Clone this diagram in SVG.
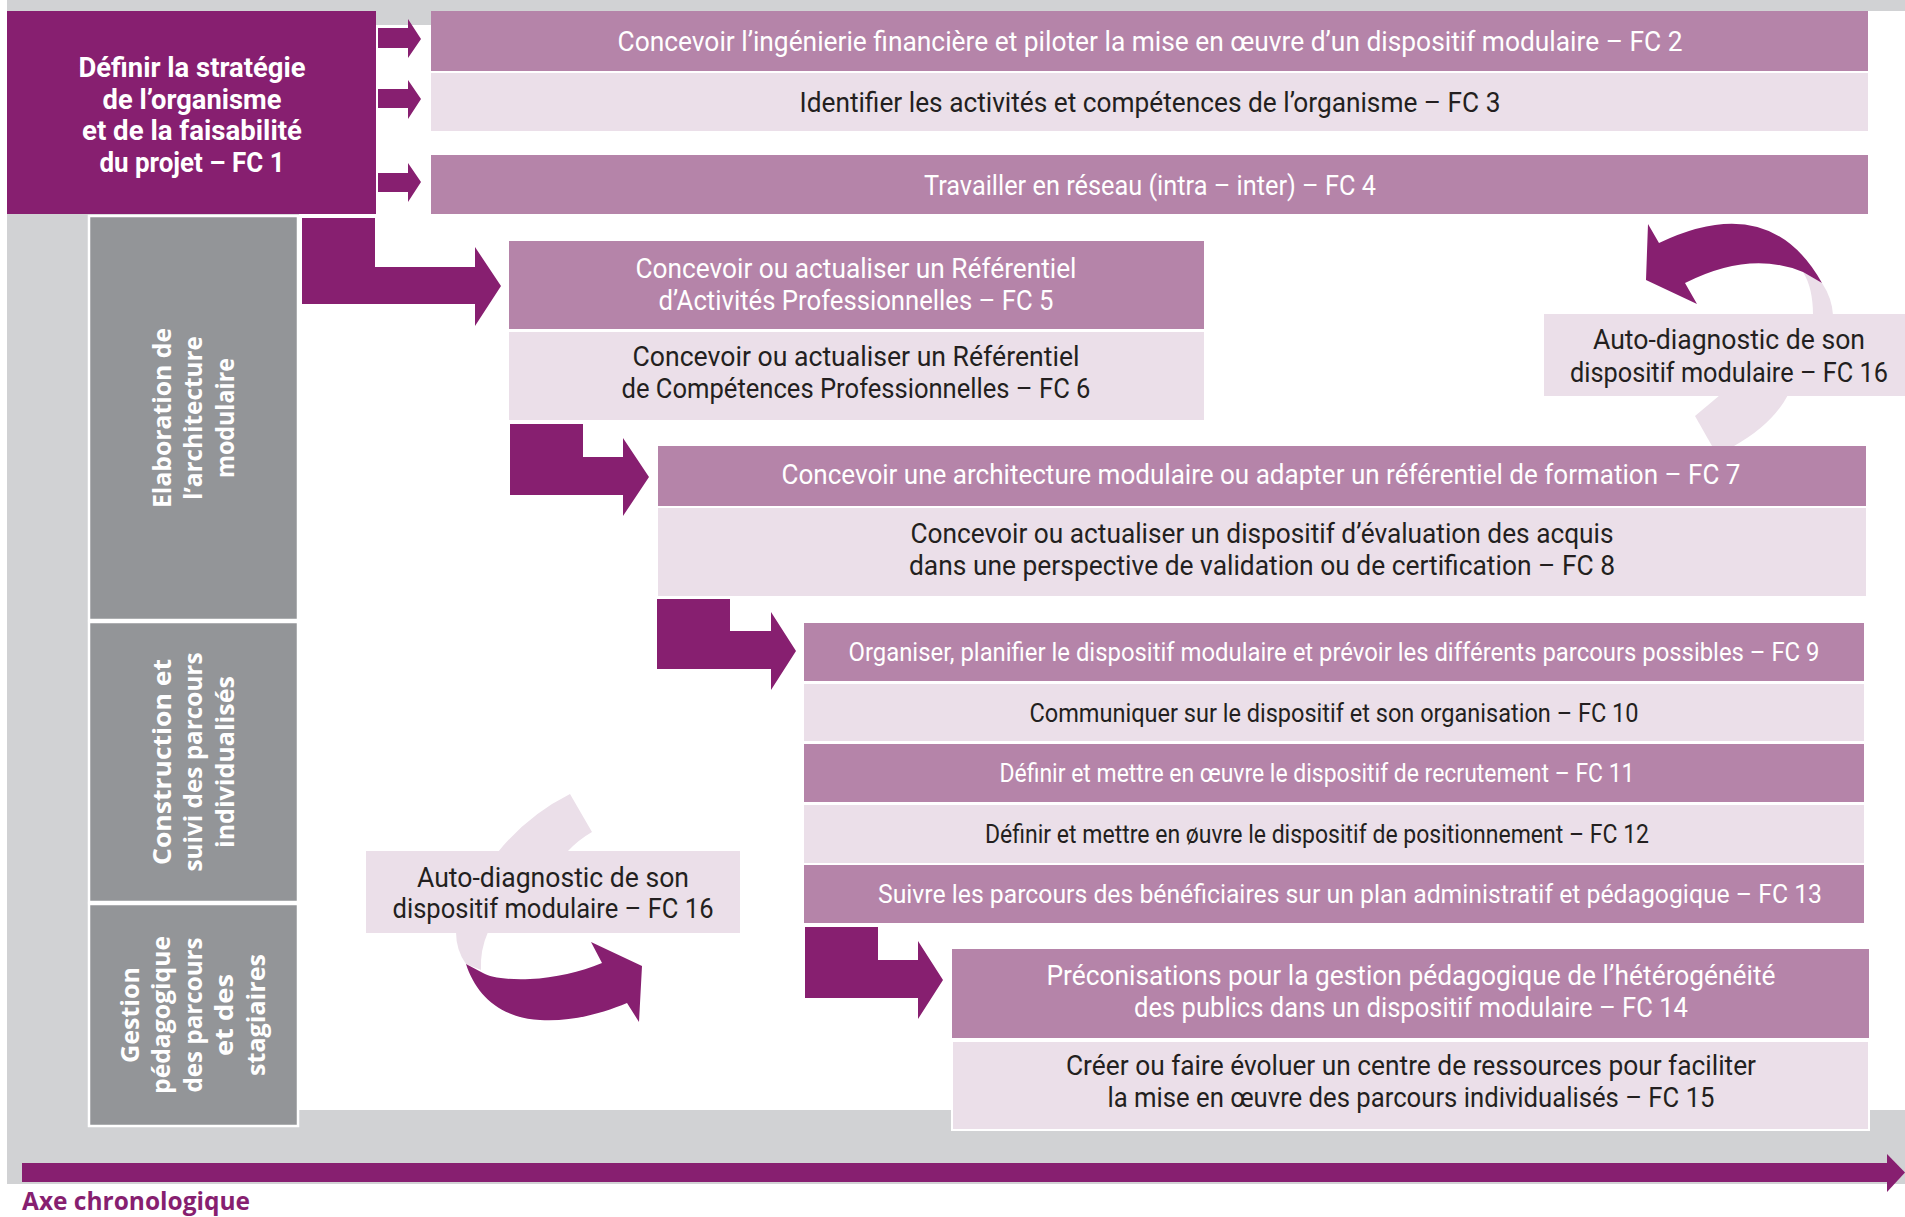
<svg xmlns="http://www.w3.org/2000/svg" width="1905" height="1217" viewBox="0 0 1905 1217">
<style>
.dk{fill:#871f70}
.md{fill:#b584a9}
.lt{fill:#ebdfe9}
.col{fill:#939598;stroke:#ffffff;stroke-width:2.5}
.pale{fill:#ebdfe9}
text{font-family:Roboto,"Liberation Sans",sans-serif;font-size:27px;text-anchor:middle}
.w{fill:#ffffff}
.d{fill:#231f20}
.sm{font-size:25px}
.b{font-weight:bold}
.side{font-family:"Open Sans","Liberation Sans",sans-serif;font-weight:bold;font-size:25px;fill:#ffffff}
</style>
<rect width="1905" height="1217" fill="#ffffff"/>
<g id="background">
<rect x="7" y="0" width="1898" height="1184" fill="#d1d2d4"/>
<rect x="299" y="11" width="1606" height="1099" fill="#ffffff"/>
<rect x="376" y="11" width="55" height="14" fill="#d1d2d4"/>
</g>

<g id="fc1">
<rect class="dk" x="7" y="11" width="369" height="203"/>
<text class="w b" x="192" y="77" textLength="227" lengthAdjust="spacingAndGlyphs">Définir la stratégie</text>
<text class="w b" x="192" y="109" textLength="179" lengthAdjust="spacingAndGlyphs">de l’organisme</text>
<text class="w b" x="192" y="140" textLength="220" lengthAdjust="spacingAndGlyphs">et de la faisabilité</text>
<text class="w b" x="192" y="172" textLength="185" lengthAdjust="spacingAndGlyphs">du projet – FC 1</text>
</g>

<g id="col-elaboration">
<rect class="col" x="89" y="216" width="209" height="404"/>
<g transform="translate(193.5,418) rotate(-90)">
<text class="side" x="0" y="-23" textLength="180" lengthAdjust="spacingAndGlyphs">Elaboration de</text>
<text class="side" x="0" y="8.5" textLength="164" lengthAdjust="spacingAndGlyphs">l’architecture</text>
<text class="side" x="0" y="40" textLength="120" lengthAdjust="spacingAndGlyphs">modulaire</text>
</g>
</g>
<g id="col-construction">
<rect class="col" x="89" y="622" width="209" height="280"/>
<g transform="translate(193.5,762) rotate(-90)">
<text class="side" x="0" y="-23" textLength="206" lengthAdjust="spacingAndGlyphs">Construction et</text>
<text class="side" x="0" y="8.5" textLength="219" lengthAdjust="spacingAndGlyphs">suivi des parcours</text>
<text class="side" x="0" y="40" textLength="172" lengthAdjust="spacingAndGlyphs">individualisés</text>
</g>
</g>
<g id="col-gestion">
<rect class="col" x="89" y="904" width="209" height="222"/>
<g transform="translate(193.5,1015) rotate(-90)">
<text class="side" x="0" y="-55" textLength="96" lengthAdjust="spacingAndGlyphs">Gestion</text>
<text class="side" x="0" y="-23.5" textLength="158" lengthAdjust="spacingAndGlyphs">pédagogique</text>
<text class="side" x="0" y="8" textLength="155" lengthAdjust="spacingAndGlyphs">des parcours</text>
<text class="side" x="0" y="39.5" textLength="82" lengthAdjust="spacingAndGlyphs">et des</text>
<text class="side" x="0" y="71" textLength="122" lengthAdjust="spacingAndGlyphs">stagiaires</text>
</g>
</g>

<g id="fc2">
<rect class="md" x="431" y="11" width="1437" height="60"/>
<text class="w" x="1150" y="51" textLength="1065" lengthAdjust="spacingAndGlyphs">Concevoir l’ingénierie financière et piloter la mise en œuvre d’un dispositif modulaire – FC 2</text>
</g>
<g id="fc3">
<rect class="lt" x="431" y="73" width="1437" height="58"/>
<text class="d" x="1150" y="112" textLength="701" lengthAdjust="spacingAndGlyphs">Identifier les activités et compétences de l’organisme – FC 3</text>
</g>
<g id="fc4">
<rect class="md" x="431" y="155" width="1437" height="59"/>
<text class="w" x="1150" y="195" textLength="452" lengthAdjust="spacingAndGlyphs">Travailler en réseau (intra – inter) – FC 4</text>
</g>
<g id="fc5">
<rect class="md" x="509" y="241" width="695" height="88"/>
<text class="w" x="856" y="278" textLength="441" lengthAdjust="spacingAndGlyphs">Concevoir ou actualiser un Référentiel</text>
<text class="w" x="856" y="310" textLength="395" lengthAdjust="spacingAndGlyphs">d’Activités Professionnelles – FC 5</text>
</g>
<g id="fc6">
<rect class="lt" x="509" y="332" width="695" height="88"/>
<text class="d" x="856" y="366" textLength="447" lengthAdjust="spacingAndGlyphs">Concevoir ou actualiser un Référentiel</text>
<text class="d" x="856" y="398" textLength="469" lengthAdjust="spacingAndGlyphs">de Compétences Professionnelles – FC 6</text>
</g>
<g id="fc7">
<rect class="md" x="658" y="446" width="1208" height="60"/>
<text class="w" x="1261" y="484" textLength="959" lengthAdjust="spacingAndGlyphs">Concevoir une architecture modulaire ou adapter un référentiel de formation – FC 7</text>
</g>
<g id="fc8">
<rect class="lt" x="658" y="508" width="1208" height="88"/>
<text class="d" x="1262" y="543" textLength="703" lengthAdjust="spacingAndGlyphs">Concevoir ou actualiser un dispositif d’évaluation des acquis</text>
<text class="d" x="1262" y="575" textLength="706" lengthAdjust="spacingAndGlyphs">dans une perspective de validation ou de certification – FC 8</text>
</g>
<g id="fc9">
<rect class="md" x="804" y="623" width="1060" height="58"/>
<text class="w sm" x="1334" y="661" textLength="971" lengthAdjust="spacingAndGlyphs">Organiser, planifier le dispositif modulaire et prévoir les différents parcours possibles – FC 9</text>
</g>
<g id="fc10">
<rect class="lt" x="804" y="684" width="1060" height="57"/>
<text class="d sm" x="1334" y="722" textLength="609" lengthAdjust="spacingAndGlyphs">Communiquer sur le dispositif et son organisation – FC 10</text>
</g>
<g id="fc11">
<rect class="md" x="804" y="744" width="1060" height="58"/>
<text class="w sm" x="1317" y="782" textLength="635" lengthAdjust="spacingAndGlyphs">Définir et mettre en œuvre le dispositif de recrutement – FC 11</text>
</g>
<g id="fc12">
<rect class="lt" x="804" y="805" width="1060" height="58"/>
<text class="d sm" x="1317" y="843" textLength="664" lengthAdjust="spacingAndGlyphs">Définir et mettre en øuvre le dispositif de positionnement – FC 12</text>
</g>
<g id="fc13">
<rect class="md" x="804" y="865" width="1060" height="58"/>
<text class="w sm" x="1350" y="903" textLength="944" lengthAdjust="spacingAndGlyphs">Suivre les parcours des bénéficiaires sur un plan administratif et pédagogique – FC 13</text>
</g>
<g id="fc14">
<rect class="md" x="952" y="949" width="917" height="89"/>
<text class="w" x="1411" y="985" textLength="729" lengthAdjust="spacingAndGlyphs">Préconisations pour la gestion pédagogique de l’hétérogénéité</text>
<text class="w" x="1411" y="1017" textLength="554" lengthAdjust="spacingAndGlyphs">des publics dans un dispositif modulaire – FC 14</text>
</g>
<g id="fc15">
<rect class="lt" x="952" y="1041" width="917" height="89" stroke="#ffffff" stroke-width="2"/>
<text class="d" x="1411" y="1075" textLength="690" lengthAdjust="spacingAndGlyphs">Créer ou faire évoluer un centre de ressources pour faciliter</text>
<text class="d" x="1411" y="1107" textLength="607" lengthAdjust="spacingAndGlyphs">la mise en œuvre des parcours individualisés – FC 15</text>
</g>

<g id="connectors">
<polygon class="dk" points="378,28 408,28 408,19 421,39 408,58 408,48 378,48"/>
<polygon class="dk" points="378,89 408,89 408,80 421,99 408,119 408,108 378,108"/>
<polygon class="dk" points="378,173 408,173 408,163 421,182 408,202 408,192 378,192"/>
<polygon class="dk" points="302,218 375,218 375,267 475,267 475,247 501,286 475,326 475,304 302,304"/>
<polygon class="dk" points="510,424 583,424 583,457 623,457 623,438 649,477 623,516 623,495 510,495"/>
<polygon class="dk" points="657,599 730,599 730,631 771,631 771,612 796,651 771,690 771,669 657,669"/>
<polygon class="dk" points="805,927 878,927 878,960 918,960 918,941 943,980 918,1019 918,998 805,998"/>
<path class="pale" d="M1803,272 L1822,283 Q1832,298 1833,315 L1813,315 Q1813,288 1803,272 Z"/>
<path class="pale" d="M1720,395 L1695,416 L1712,446 L1734,446 Q1772,425 1788,395 Z"/>
<path class="dk" d="M1646,280 L1648,224 L1659,243 Q1770,190 1822,283 L1803,272 Q1750,250 1685,283 L1697,304 Z"/>
<path class="pale" d="M498,852 Q528,815 570,794 L592,832 Q578,840 567,852 Z"/>
<path class="pale" d="M456,932 L488,932 Q480,950 481,970 L466,964 Q456,950 456,932 Z"/>
<path class="dk" d="M466,964 C476,995 500,1018 540,1020 C575,1022 605,1012 627,1003 L639,1022 L642,966 L591,942 L602,963 C580,972 555,978 530,979 C505,980 490,977 483,973 Z"/>
</g>

<g id="fc16-right">
<rect class="lt" x="1544" y="314" width="361" height="82"/>
<text class="d" x="1729" y="349" textLength="272" lengthAdjust="spacingAndGlyphs">Auto-diagnostic de son</text>
<text class="d" x="1729" y="382" textLength="318" lengthAdjust="spacingAndGlyphs">dispositif modulaire – FC 16</text>
</g>
<g id="fc16-left">
<rect class="lt" x="366" y="851" width="374" height="82"/>
<text class="d" x="553" y="887" textLength="272" lengthAdjust="spacingAndGlyphs">Auto-diagnostic de son</text>
<text class="d" x="553" y="918" textLength="321" lengthAdjust="spacingAndGlyphs">dispositif modulaire – FC 16</text>
</g>

<g id="timeline">
<rect class="dk" x="22" y="1163" width="1868" height="19"/>
<polygon class="dk" points="1887,1154 1905,1172.5 1887,1192"/>
<text x="22" y="1210" textLength="228" lengthAdjust="spacingAndGlyphs" style="text-anchor:start;font-family:'Open Sans','Liberation Sans',sans-serif;font-weight:bold;font-size:25px;fill:#871f70">Axe chronologique</text>
</g>
</svg>
